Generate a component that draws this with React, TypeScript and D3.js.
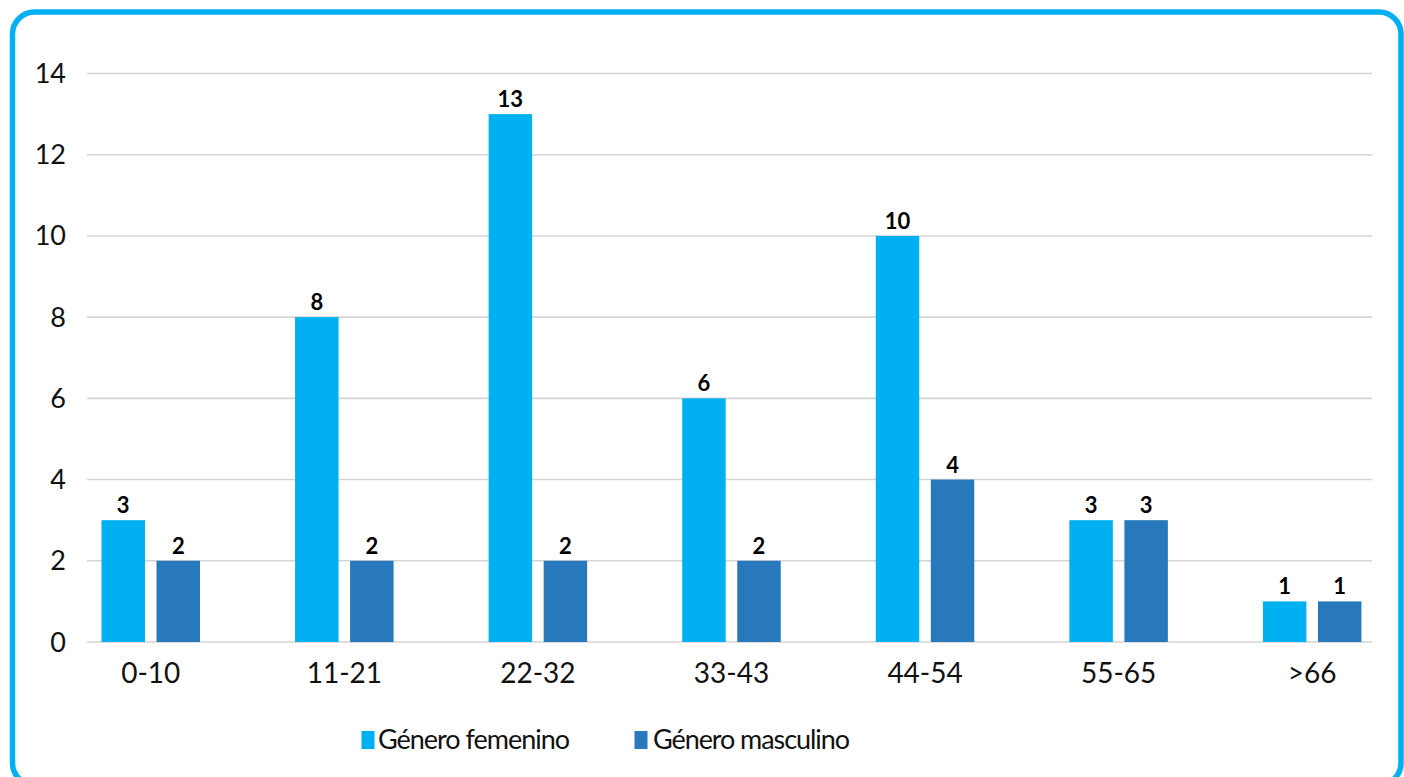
import * as d3 from "d3";

const categories = ["0-10", "11-21", "22-32", "33-43", "44-54", "55-65", ">66"];
const femenino = [3, 8, 13, 6, 10, 3, 1];
const masculino = [2, 2, 2, 2, 4, 3, 1];
const seriesNames = ["Género femenino", "Género masculino"];
const yTicks = [0, 2, 4, 6, 8, 10, 12, 14];

const W = 1404;
const H = 777;
const COLORS = ["#00B0F0", "#2878BC"];
const FONT = "Lato, 'Open Sans', sans-serif";

export default function App() {
  // grid area and category area differ a little in the original
  const yScale = d3.scaleLinear().domain([0, 14]).range([642, 73.5]);
  const xScale = d3.scaleBand().domain(categories).range([54, 1409]).paddingInner(0).paddingOuter(0);
  const inner = d3
    .scaleBand()
    .domain(["f", "m"])
    .range([47.5, 47.5 + 98.5])
    .paddingInner(0.21);

  const rows = categories.map((c, i) => ({ cat: c, values: [femenino[i], masculino[i]] }));

  return (
    <div style={{ position: "absolute", left: 0, top: 0 }}>
      <svg width={W} height={H} style={{ display: "block", background: "#fff" }}>
        <rect x={12.5} y={12} width={1388.5} height={773} rx={22} ry={22} fill="#fff" stroke="#00B0F0" strokeWidth={5.5} />

        {/* grid + y ticks */}
        {yTicks.map((t) => (
          <g key={t}>
            <line x1={87} x2={1372} y1={yScale(t)} y2={yScale(t)} stroke="#d4d4d4" strokeWidth={1.6} />
            <text x={66} y={yScale(t) + 9.5} textAnchor="end" fontFamily={FONT} fontSize={27} fill="#111">
              {t}
            </text>
          </g>
        ))}

        {/* bars */}
        {rows.map((r) => (
          <g key={r.cat} transform={`translate(${xScale(r.cat)},0)`}>
            {r.values.map((v, j) => {
              const key = j === 0 ? "f" : "m";
              const x = inner(key)!;
              return (
                <g key={key}>
                  <rect x={x} y={yScale(v)} width={inner.bandwidth()} height={yScale(0) - yScale(v)} fill={COLORS[j]} />
                  <text
                    x={x + inner.bandwidth() / 2}
                    y={yScale(v) - 7}
                    textAnchor="middle"
                    fontFamily={FONT}
                    fontWeight={700}
                    fontSize={22}
                    fill="#000"
                  >
                    {v}
                  </text>
                </g>
              );
            })}
            <text
              x={xScale.bandwidth() / 2}
              y={682.5}
              textAnchor="middle"
              fontFamily={FONT}
              fontSize={28}
              fill="#111"
            >
              {r.cat}
            </text>
          </g>
        ))}

        {/* legend */}
        {seriesNames.map((name, i) => {
          const lx = [361.5, 634.5][i];
          const tx = [378, 653][i];
          const tw = [192, 197][i];
          return (
            <g key={name}>
              <rect x={lx} y={731} width={13} height={18} fill={COLORS[i]} />
              <text
                x={tx}
                y={749}
                fontFamily={FONT}
                fontSize={27}
                fill="#111"
                textLength={tw}
                lengthAdjust="spacing"
              >
                {name}
              </text>
            </g>
          );
        })}
      </svg>
    </div>
  );
}
